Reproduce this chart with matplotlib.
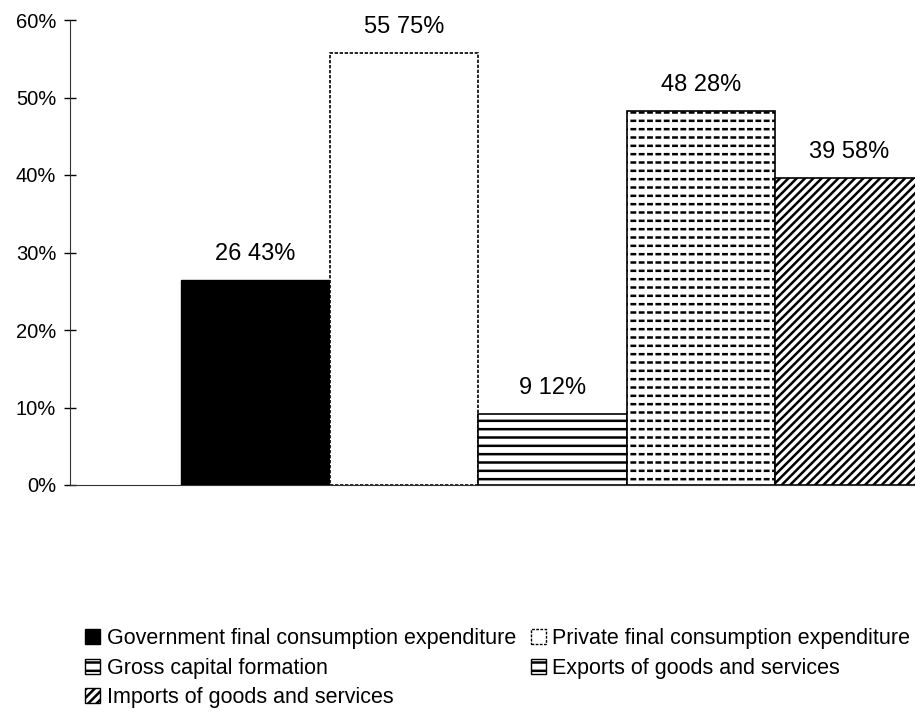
import matplotlib
matplotlib.use("Agg")
import matplotlib.pyplot as plt
from matplotlib.patches import Patch
from matplotlib.ticker import PercentFormatter

plt.rcParams['font.family'] = ['Liberation Sans', 'DejaVu Sans']
plt.rcParams['hatch.linewidth'] = 1.8

# data
categories = ['Government final consumption expenditure',
              'Private final consumption expenditure',
              'Gross capital formation',
              'Exports of goods and services',
              'Imports of goods and services']
values = [26.43, 55.75, 9.12, 48.28, 39.58]
labels = ['26 43%', '55 75%', '9 12%', '48 28%', '39 58%']
yticks = [0, 10, 20, 30, 40, 50, 60]

fig = plt.figure(figsize=(9.15, 7.22), dpi=100)
ax = fig.add_axes([70 / 915, 1 - 485 / 722, 845 / 915, 465 / 722])

x = list(range(len(values)))

# government: solid black
ax.bar(x[0], values[0], width=1, color='black', edgecolor='black', linewidth=1)
# private: white with dotted outline
ax.bar(x[1], values[1], width=1, color='white', edgecolor='black',
       linewidth=1.2, linestyle=(0, (2, 1)))
# gross capital formation: horizontal lines
ax.bar(x[2], values[2], width=1, color='white', edgecolor='black',
       linewidth=1.2, hatch='--')
# exports: dashed horizontal lines (horizontal hatch broken by white vertical hatch)
ax.bar(x[3], values[3], width=1, color='white', edgecolor='black',
       linewidth=0, hatch='--')
ax.bar(x[3], values[3], width=1, fill=False, edgecolor='white',
       linewidth=0, hatch='||')
ax.bar(x[3], values[3], width=1, fill=False, edgecolor='black', linewidth=1.2)
# imports: diagonal lines
ax.bar(x[4], values[4], width=1, color='white', edgecolor='black',
       linewidth=1.2, hatch='////')

for xi, v, lab in zip(x, values, labels):
    ax.annotate(lab, (xi, v), xytext=(0, 11), textcoords='offset points',
                ha='center', va='bottom', fontsize=17)

ax.set_ylim(0, 60)
ax.set_xlim(-1.247, 4.44)
ax.set_yticks(yticks)
ax.yaxis.set_major_formatter(PercentFormatter(decimals=0))
ax.tick_params(axis='y', direction='inout', length=8, width=1, labelsize=14.5, pad=6)
ax.tick_params(axis='x', bottom=False, labelbottom=False)
ax.spines['top'].set_visible(False)
ax.spines['right'].set_visible(False)
ax.spines['left'].set_color('#333333')
ax.spines['bottom'].set_color('#333333')

# legend, order chosen so the column-major fill reads row by row
handles = [
    Patch(facecolor='black', edgecolor='black', label=categories[0]),
    Patch(facecolor='white', edgecolor='black', hatch='--', label=categories[2]),
    Patch(facecolor='white', edgecolor='black', hatch='////', label=categories[4]),
    Patch(facecolor='white', edgecolor='black', linestyle=(0, (2, 1)), label=categories[1]),
    Patch(facecolor='white', edgecolor='black', hatch='--', label=categories[3]),
]
fig.legend(handles=handles, ncol=2, loc='upper left',
           bbox_to_anchor=(85 / 915, 1 - 628 / 722),
           frameon=False, fontsize=15.5, handlelength=0.7, handleheight=0.7,
           handletextpad=0.3, columnspacing=0.7, labelspacing=0.4,
           borderpad=0, borderaxespad=0)

fig.savefig('out.png', dpi=100)
